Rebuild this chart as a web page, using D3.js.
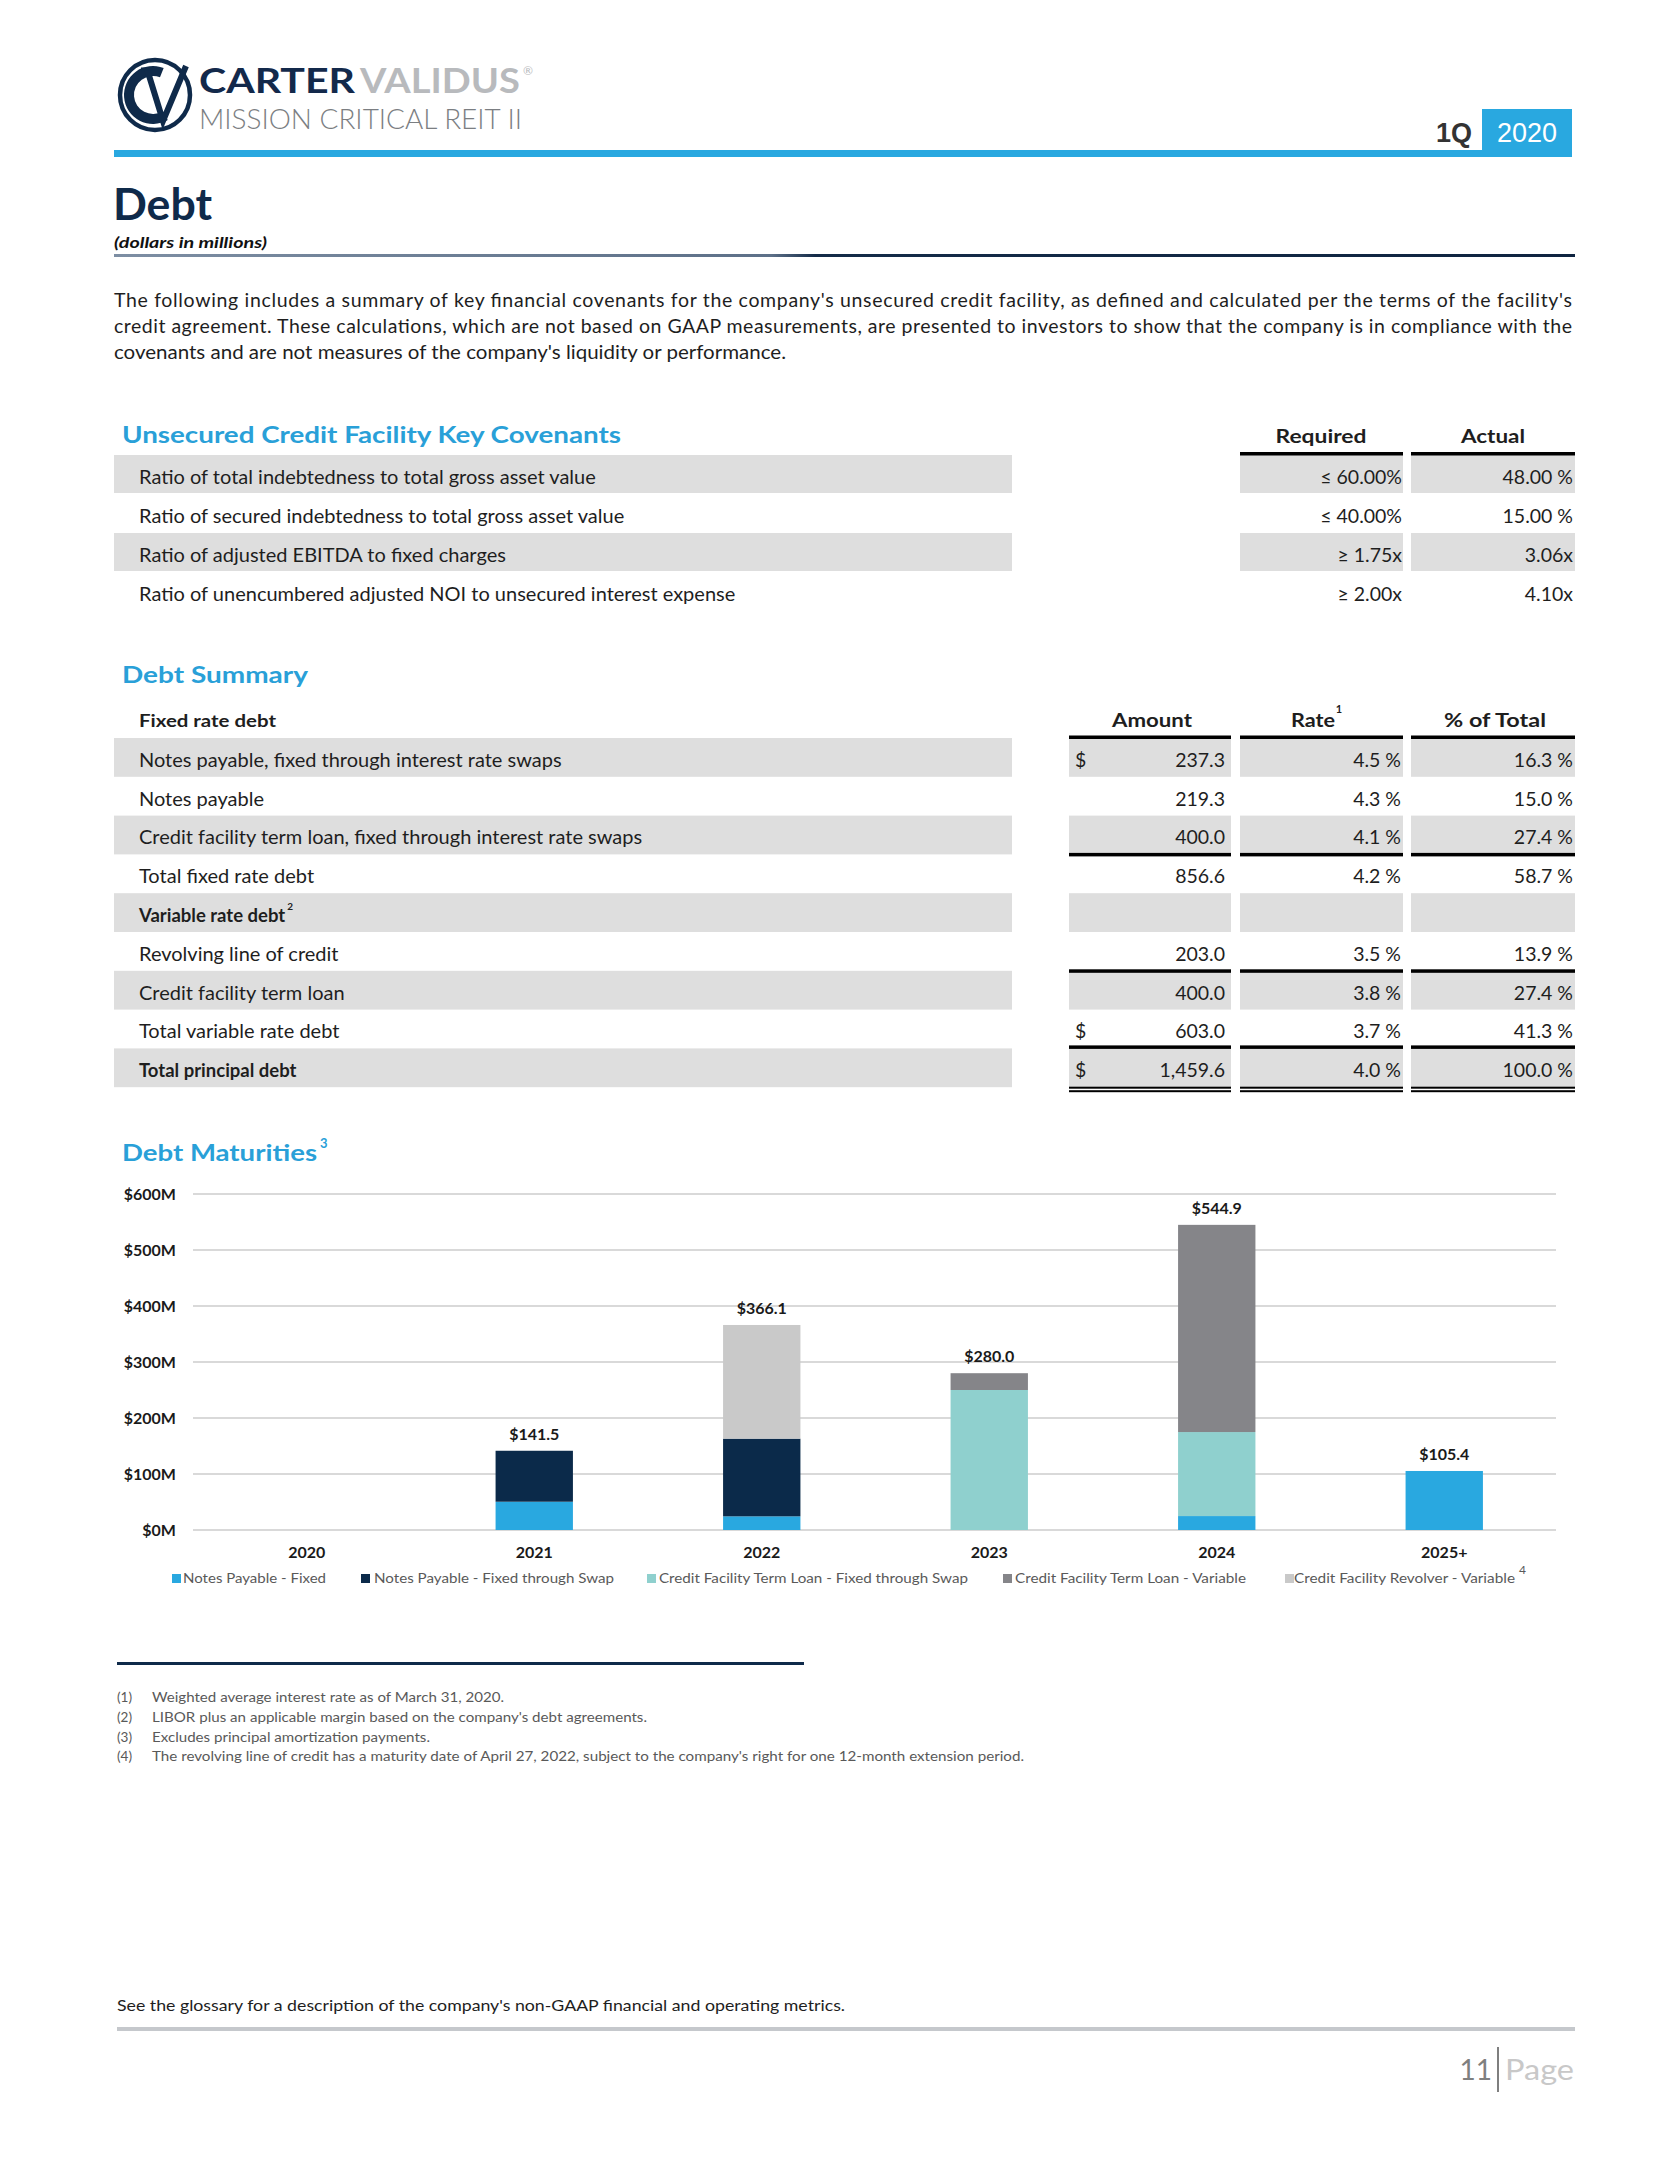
<!DOCTYPE html>
<html><head><meta charset="utf-8">
<script src="https://cdn.jsdelivr.net/npm/d3@7"></script>
<style>
html,body{margin:0;padding:0;background:#fff;}
svg{display:block;}
text{font-family:Lato,"Open Sans",sans-serif;}
</style></head>
<body>
<div id="page"></div>
<script>
// ---------------- DATA ----------------
const introLines = [
  "The following includes a summary of key financial covenants for the company's unsecured credit facility, as defined and calculated per the terms of the facility's",
  "credit agreement. These calculations, which are not based on GAAP measurements, are presented to investors to show that the company is in compliance with the",
  "covenants and are not measures of the company's liquidity or performance."
];
const covenantLabels = [
  "Ratio of total indebtedness to total gross asset value",
  "Ratio of secured indebtedness to total gross asset value",
  "Ratio of adjusted EBITDA to fixed charges",
  "Ratio of unencumbered adjusted NOI to unsecured interest expense"
];
const covenantRequired = ["≤ 60.00%", "≤ 40.00%", "≥ 1.75x", "≥ 2.00x"];
const covenantActual = ["48.00 %", "15.00 %", "3.06x", "4.10x"];

const summaryLabels = [
  "Notes payable, fixed through interest rate swaps",
  "Notes payable",
  "Credit facility term loan, fixed through interest rate swaps",
  "Total fixed rate debt",
  "Variable rate debt",
  "Revolving line of credit",
  "Credit facility term loan",
  "Total variable rate debt",
  "Total principal debt"
];
const summaryAmount = [237.3, 219.3, 400.0, 856.6, null, 203.0, 400.0, 603.0, 1459.6];
const summaryRate   = [4.5, 4.3, 4.1, 4.2, null, 3.5, 3.8, 3.7, 4.0];
const summaryPct    = [16.3, 15.0, 27.4, 58.7, null, 13.9, 27.4, 41.3, 100.0];
const summaryDollar = [true, false, false, false, false, false, false, true, true];
const summaryBold   = [false, false, false, false, true, false, false, false, true];

const years = ["2020", "2021", "2022", "2023", "2024", "2025+"];
const seriesNames = [
  "Notes Payable - Fixed",
  "Notes Payable - Fixed through Swap",
  "Credit Facility Term Loan - Fixed through Swap",
  "Credit Facility Term Loan - Variable",
  "Credit Facility Revolver - Variable"
];
const notesFixed   = [0, 50.5, 24.4, 0, 24.9, 105.4];
const notesSwap    = [0, 91.0, 138.7, 0, 0, 0];
const termSwap     = [0, 0, 0, 250.0, 150.0, 0];
const termVariable = [0, 0, 0, 30.0, 370.0, 0];
const revolver     = [0, 0, 203.0, 0, 0, 0];
const yTicks = [0, 100, 200, 300, 400, 500, 600];

const footnotes = [
  "Weighted average interest rate as of March 31, 2020.",
  "LIBOR plus an applicable margin based on the company's debt agreements.",
  "Excludes principal amortization payments.",
  "The revolving line of credit has a maturity date of April 27, 2022, subject to the company's right for one 12-month extension period."
];

// ---------------- STYLE ----------------
const NAVY = "#0f2a4a", BLUE = "#29a8e0", TEXT = "#1e1e1e", SHADE = "#dedede";
const seriesColors = ["#29a8e0", "#0b2a4a", "#8fd0ce", "#858589", "#c9c9c9"];

const W = 1669, H = 2160;
const svg = d3.select("#page").append("svg").attr("width", W).attr("height", H);
svg.append("rect").attr("width", W).attr("height", H).attr("fill", "#fff");

function txt(parent, x, y, s, o = {}) {
  const t = parent.append("text").attr("x", x).attr("y", y).text(s)
    .attr("font-size", o.size || 17)
    .attr("font-weight", o.weight || 400)
    .attr("fill", o.fill || TEXT)
    .attr("text-anchor", o.anchor || "start");
  if (o.family) t.style("font-family", o.family);
  if (o.style) t.attr("font-style", o.style);
  if (o.width) {
    t.attr("textLength", o.width).attr("lengthAdjust", o.adjust || "spacingAndGlyphs");
  }
  return t;
}

// ---------------- HEADER ----------------
const hdr = svg.append("g");
// logo mark (drawn shapes)
hdr.append("circle").attr("cx", 155).attr("cy", 95).attr("r", 35).attr("fill", "#fff").attr("stroke", NAVY).attr("stroke-width", 4.5);
hdr.append("path")
  .attr("transform", "translate(153,95)")
  .attr("d", d3.arc().innerRadius(19).outerRadius(29).startAngle(Math.PI * 0.83).endAngle(Math.PI * 2.12)())
  .attr("fill", NAVY);
hdr.append("path")
  .attr("d", "M147,69 L163,121 L186,66")
  .attr("fill", "none").attr("stroke", NAVY).attr("stroke-width", 6).attr("stroke-linejoin", "miter");
hdr.append("path").attr("d", "M141,69 L156,69").attr("stroke", NAVY).attr("stroke-width", 3);

// wordmark
const brand = hdr.append("text").attr("font-weight", 700);
brand.append("tspan").attr("x", 199).attr("y", 93).attr("font-size", 34).attr("fill", "#13294b")
  .attr("textLength", 156).attr("lengthAdjust", "spacingAndGlyphs").text("CARTER");
brand.append("tspan").attr("x", 360).attr("y", 93).attr("font-size", 34).attr("fill", "#b8babd")
  .attr("textLength", 160).attr("lengthAdjust", "spacingAndGlyphs").text("VALIDUS");
brand.append("tspan").attr("x", 523).attr("y", 75).attr("font-size", 12).attr("font-weight", 400).attr("fill", "#b8babd").text("®");
txt(hdr, 199, 128.5, "MISSION CRITICAL REIT II", {size: 27.5, weight: 300, fill: "#7b7e82", width: 323});

// blue band + 1Q 2020
hdr.append("rect").attr("x", 114).attr("y", 150).attr("width", 1458).attr("height", 7).attr("fill", BLUE);
hdr.append("rect").attr("x", 1482).attr("y", 109).attr("width", 90).attr("height", 45).attr("fill", BLUE);
txt(hdr, 1472, 142, "1Q", {size: 27, weight: 700, fill: "#333", anchor: "end", family: "'Liberation Sans',Arial,sans-serif"});
txt(hdr, 1527, 142, "2020", {size: 27, weight: 400, fill: "#fff", anchor: "middle", family: "'Liberation Sans',Arial,sans-serif"});

// title
txt(hdr, 113, 220, "Debt", {size: 44, weight: 700, fill: NAVY, width: 99});
txt(hdr, 114, 248, "(dollars in millions)", {size: 15, weight: 700, style: "italic", fill: "#111", width: 153});
const grad = svg.append("defs").append("linearGradient").attr("id", "tl").attr("x1", "0").attr("x2", "1");
grad.append("stop").attr("offset", "0").attr("stop-color", "#7d8ea3");
grad.append("stop").attr("offset", "0.45").attr("stop-color", "#5d7088");
grad.append("stop").attr("offset", "0.48").attr("stop-color", "#142b48");
grad.append("stop").attr("offset", "1").attr("stop-color", "#0f2440");
hdr.append("rect").attr("x", 114).attr("y", 254).attr("width", 1461).attr("height", 3).attr("fill", "url(#tl)");

// intro paragraph
const introY = [307, 333, 359];
introLines.forEach((l, i) => {
  const t = txt(svg, 114, introY[i], l, {size: 19.5, fill: TEXT});
  if (i < 2) t.attr("textLength", 1458).attr("lengthAdjust", "spacing");
  else t.attr("textLength", 672).attr("lengthAdjust", "spacingAndGlyphs");
});

// ---------------- COVENANTS TABLE ----------------
const cov = svg.append("g");
txt(cov, 122, 443, "Unsecured Credit Facility Key Covenants", {size: 23, weight: 700, fill: "#29a0d8", width: 499});
const colReq = [1240, 1403], colAct = [1411, 1575], colLab = [114, 1012];
txt(cov, 1321, 443, "Required", {size: 18, weight: 700, anchor: "middle", width: 91});
txt(cov, 1493, 443, "Actual", {size: 18, weight: 700, anchor: "middle", width: 64});
const covTop = 455, covStep = 39;
covenantLabels.forEach((l, i) => {
  const top = covTop + i * covStep;
  if (i % 2 === 0) {
    [colLab, colReq, colAct].forEach(c => cov.append("rect").attr("x", c[0]).attr("y", top).attr("width", c[1] - c[0]).attr("height", covStep - 1).attr("fill", SHADE));
  }
  txt(cov, 139, top + 29, l, {size: 20});
  txt(cov, 1402, top + 29, covenantRequired[i], {size: 19.5, anchor: "end"});
  txt(cov, 1573, top + 29, covenantActual[i], {size: 19.5, anchor: "end"});
});
[colReq, colAct].forEach(c => cov.append("rect").attr("x", c[0]).attr("y", 452).attr("width", c[1] - c[0]).attr("height", 3.5).attr("fill", "#000"));

// ---------------- DEBT SUMMARY TABLE ----------------
const sum = svg.append("g");
txt(sum, 122, 683, "Debt Summary", {size: 23, weight: 700, fill: "#29a0d8", width: 186});
const colAmt = [1069, 1231], colRate = [1240, 1403], colPct = [1411, 1575];
txt(sum, 139, 727, "Fixed rate debt", {size: 16.5, weight: 700, width: 137});
txt(sum, 1152, 727, "Amount", {size: 18, weight: 700, anchor: "middle", width: 80});
txt(sum, 1313, 727, "Rate", {size: 18, weight: 700, anchor: "middle", width: 44});
txt(sum, 1339, 713, "1", {size: 11, weight: 700, anchor: "middle"});
txt(sum, 1495, 727, "% of Total", {size: 18, weight: 700, anchor: "middle", width: 102});
const sTop = 738, sStep = 38.8;
const fmt1 = d3.format(",.1f");
summaryLabels.forEach((l, i) => {
  const top = sTop + i * sStep;
  const base = top + 28.8;
  if (i % 2 === 0) {
    [colLab, colAmt, colRate, colPct].forEach(c => sum.append("rect").attr("x", c[0]).attr("y", top).attr("width", c[1] - c[0]).attr("height", sStep).attr("fill", SHADE));
  }
  const lt = txt(sum, 139, base, l, {size: summaryBold[i] ? 18.5 : 20, weight: summaryBold[i] ? 700 : 400});
  if (i === 4) {
    const bb = lt.node().getComputedTextLength();
    txt(sum, 139 + bb + 2, base - 12, "2", {size: 10, weight: 700});
  }
  if (summaryDollar[i]) txt(sum, 1075, base, "$", {size: 19.5});
  if (summaryAmount[i] != null) txt(sum, 1225, base, fmt1(summaryAmount[i]), {size: 19.5, anchor: "end"});
  if (summaryRate[i] != null) txt(sum, 1401, base, summaryRate[i].toFixed(1) + " %", {size: 19.5, anchor: "end"});
  if (summaryPct[i] != null) txt(sum, 1573, base, summaryPct[i].toFixed(1) + " %", {size: 19.5, anchor: "end"});
});
const valCols = [colAmt, colRate, colPct];
function ruleAt(y, h) { valCols.forEach(c => sum.append("rect").attr("x", c[0]).attr("y", y).attr("width", c[1] - c[0]).attr("height", h).attr("fill", "#000")); }
ruleAt(735.5, 3.5);
ruleAt(sTop + 3 * sStep - 1.5, 3.5);
ruleAt(sTop + 6 * sStep - 1.5, 3.5);
ruleAt(sTop + 8 * sStep - 3, 3.5);
ruleAt(sTop + 9 * sStep - 0.5, 2);
ruleAt(sTop + 9 * sStep + 3, 2);

// ---------------- DEBT MATURITIES CHART ----------------
const ch = svg.append("g");
txt(ch, 122, 1161, "Debt Maturities", {size: 23, weight: 700, fill: "#29a0d8", width: 195});
txt(ch, 320, 1148, "3", {size: 13, weight: 700, fill: "#29a0d8"});

const x = d3.scaleBand().domain(years).range([193, 1558]).padding(0);
const y = d3.scaleLinear().domain([0, 600]).range([1530, 1194]);
const barW = x.bandwidth() * 0.34;

ch.append("g").selectAll("line").data(yTicks).join("line")
  .attr("x1", 193).attr("x2", 1556)
  .attr("y1", d => y(d)).attr("y2", d => y(d))
  .attr("stroke", "#d9d9d9").attr("stroke-width", 2);
ch.append("g").selectAll("text").data(yTicks).join("text")
  .attr("x", 176).attr("y", d => y(d) + 6)
  .attr("text-anchor", "end").attr("font-size", 16).attr("font-weight", 700).attr("fill", "#1a1a1a")
  .text(d => "$" + d + "M");

const keys = ["notesFixed", "notesSwap", "termSwap", "termVariable", "revolver"];
const rows = years.map((yr, i) => ({year: yr, notesFixed: notesFixed[i], notesSwap: notesSwap[i], termSwap: termSwap[i], termVariable: termVariable[i], revolver: revolver[i]}));
const stacked = d3.stack().keys(keys)(rows);
ch.append("g").selectAll("g").data(stacked).join("g")
  .attr("fill", (d, i) => seriesColors[i])
  .selectAll("rect").data(d => d).join("rect")
  .attr("x", d => x(d.data.year) + x.bandwidth() / 2 - barW / 2)
  .attr("width", barW)
  .attr("y", d => y(d[1]))
  .attr("height", d => y(d[0]) - y(d[1]));

const totals = rows.map(r => ({year: r.year, total: d3.sum(keys, k => r[k])}));
ch.append("g").selectAll("text").data(totals.filter(d => d.total > 0)).join("text")
  .attr("x", d => x(d.year) + x.bandwidth() / 2)
  .attr("y", d => y(d.total) - 11)
  .attr("text-anchor", "middle").attr("font-size", 16).attr("font-weight", 700).attr("fill", "#1a1a1a")
  .text(d => "$" + d.total.toFixed(1));

ch.append("g").selectAll("text").data(years).join("text")
  .attr("x", d => x(d) + x.bandwidth() / 2)
  .attr("y", 1558)
  .attr("text-anchor", "middle").attr("font-size", 16).attr("font-weight", 700).attr("fill", "#1a1a1a")
  .text(d => d);

// legend
const legSq = [172, 361, 647, 1003, 1285];
const legTx = [183, 374, 659, 1015, 1294];
const legW = [143, 240, 309, 231, 221];
const lg = ch.append("g");
seriesNames.forEach((n, i) => {
  lg.append("rect").attr("x", legSq[i]).attr("y", 1574).attr("width", 9).attr("height", 9).attr("fill", seriesColors[i]);
  txt(lg, legTx[i], 1583, n, {size: 14, fill: "#595959", width: legW[i]});
});
txt(lg, 1519, 1574, "4", {size: 12, fill: "#595959"});

// ---------------- FOOTNOTES ----------------
const fn = svg.append("g");
fn.append("rect").attr("x", 117).attr("y", 1662).attr("width", 687).attr("height", 3).attr("fill", NAVY);
const fnY = [1702, 1722, 1742, 1761];
const fnW = [352, 495, 278, 872];
footnotes.forEach((f, i) => {
  txt(fn, 117, fnY[i], "(" + (i + 1) + ")", {size: 13.5, fill: "#595959"});
  txt(fn, 152, fnY[i], f, {size: 13.5, fill: "#595959", width: fnW[i]});
});

// ---------------- FOOTER ----------------
const ft = svg.append("g");
txt(ft, 117, 2011, "See the glossary for a description of the company's non-GAAP financial and operating metrics.", {size: 16, fill: TEXT, width: 728});
ft.append("rect").attr("x", 117).attr("y", 2027).attr("width", 1458).attr("height", 4).attr("fill", "#c5c8cc");
txt(ft, 1492, 2080, "11", {size: 28, fill: "#7f7f7f", anchor: "end"});
ft.append("line").attr("x1", 1498).attr("x2", 1498).attr("y1", 2047).attr("y2", 2092).attr("stroke", "#7f7f7f").attr("stroke-width", 2);
txt(ft, 1505, 2080, "Page", {size: 28, fill: "#c8c8c8", width: 69});
</script>
</body></html>
